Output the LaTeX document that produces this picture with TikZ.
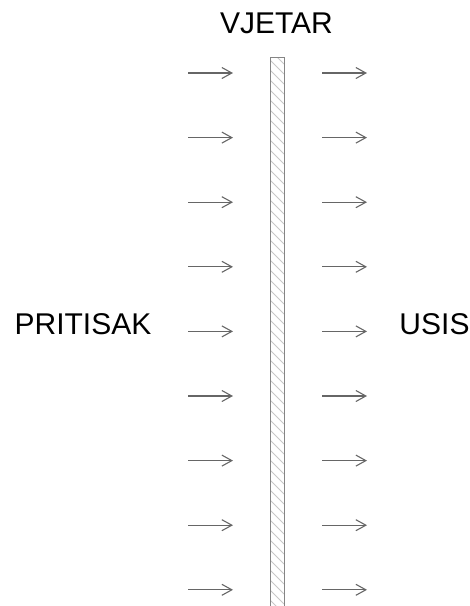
\documentclass[tikz,border=0pt]{standalone}
\usepackage{fontspec}
\setmainfont{Liberation Sans}
\usetikzlibrary{arrows.meta}
\definecolor{windcolor}{HTML}{666666}
\definecolor{wallcolor}{HTML}{858585}
\definecolor{hatchcolor}{HTML}{C8C8C8}
\tikzset{side label/.style={anchor=base,inner sep=0pt,font=\fontsize{30}{36}\selectfont},wind arrow/.style={-{Straight Barb[length=10pt,width=11pt]},draw=windcolor,line width=1.1pt},wall/.style={draw=wallcolor,line width=1pt},hatch/.style={draw=hatchcolor,line width=.8pt}}

\begin{document}
\begin{tikzpicture}[x=1pt,y=-1pt]
 \useasboundingbox (0,0) rectangle (470,606);
 \node[side label] (wind) at (276.5,33) {VJETAR};
 \node[side label] (press) at (83,334) {PRITISAK};
 \node[side label] (suct) at (434.5,334) {USIS};
 % hatched wall
 \coordinate (wtop) at (270,57);
 \coordinate (wbot) at (284,612);
 \begin{scope}
   \clip (wtop) rectangle (wbot);
   \foreach \yy in {40,50,...,620} {
     \draw[hatch] (270,\yy) -- (284,\yy+14);
   }
 \end{scope}
 \draw[wall] (270,612) -- (wtop) -- (284,57) -- (wbot);
 % wind arrows
 \foreach \i in {0,...,8} {
   \pgfmathsetmacro{\yy}{73+64.6*\i}
   \coordinate (ls\i) at (188,\yy);
   \coordinate (le\i) at (233,\yy);
   \coordinate (rs\i) at (322,\yy);
   \coordinate (re\i) at (367,\yy);
   \draw[wind arrow] (ls\i) -- (le\i);
   \draw[wind arrow] (rs\i) -- (re\i);
 }
\end{tikzpicture}
\end{document}
